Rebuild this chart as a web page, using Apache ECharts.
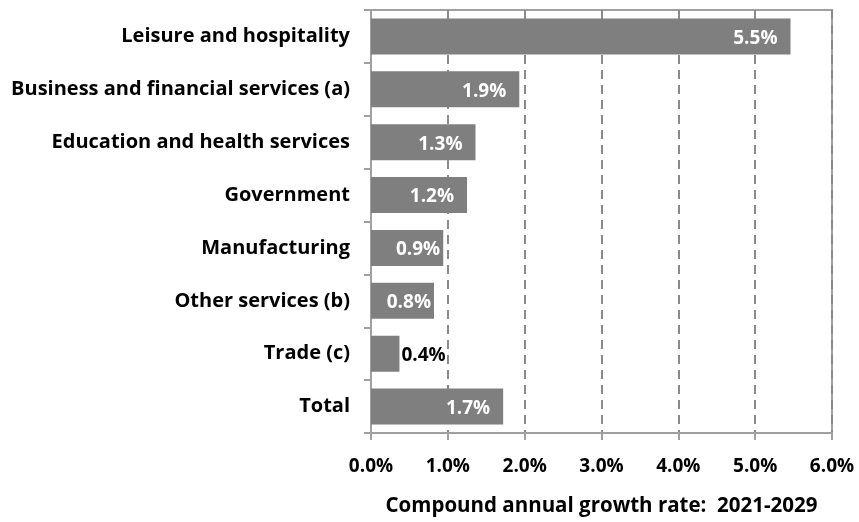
<!DOCTYPE html>
<html>
<head>
<meta charset="utf-8">
<script src="https://cdn.jsdelivr.net/npm/echarts@6/dist/echarts.min.js"></script>
<style>
  html, body { margin: 0; padding: 0; background: #fff; }
  #chart { width: 859px; height: 522px; }
</style>
</head>
<body>
<div id="chart"></div>
<script>
// categories, top to bottom as shown
const categories = [
  'Leisure and hospitality',
  'Business and financial services (a)',
  'Education and health services',
  'Government',
  'Manufacturing',
  'Other services (b)',
  'Trade (c)',
  'Total'
];
// bar lengths (%)
const growth = [5.46, 1.93, 1.36, 1.25, 0.94, 0.82, 0.37, 1.72];
// printed labels
const growthLabels = ['5.5%', '1.9%', '1.3%', '1.2%', '0.9%', '0.8%', '0.4%', '1.7%'];
const xTicks = [0, 1, 2, 3, 4, 5, 6];

const font = '"Open Sans", sans-serif';
const fs = 19;
const axisGray = '#a0a0a0';

let myChart = echarts.init(document.getElementById('chart'));

// labels inside the bar except the short one
const seriesData = growth.map((v, i) => {
  let outside = v < 0.5;
  return {
    value: v,
    label: {
      position: outside ? 'right' : 'insideRight',
      color: outside ? '#000' : '#fff',
      distance: outside ? 2 : (v < 1 ? 3 : 13)
    }
  };
});

let option = {
  animation: false,
  grid: {
    left: 371,
    right: 27,
    top: 10,
    bottom: 85,
    show: true,
    borderColor: axisGray,
    borderWidth: 2
  },
  xAxis: {
    type: 'value',
    min: xTicks[0],
    max: xTicks[xTicks.length - 1],
    interval: 1,
    name: 'Compound annual growth rate:  2021-2029',
    nameLocation: 'middle',
    nameGap: 63,
    nameTextStyle: { fontFamily: font, fontWeight: 'bold', fontSize: 20.5, color: '#000' },
    axisLine: { show: true, lineStyle: { color: axisGray, width: 2 } },
    axisTick: { show: true, length: 7, lineStyle: { color: axisGray, width: 2 } },
    axisLabel: {
      fontFamily: font, fontWeight: 'bold', fontSize: fs, color: '#000', margin: 24,
      formatter: v => v.toFixed(1) + '%'
    },
    splitLine: { show: true, lineStyle: { type: [9, 6], color: '#8a8a8a', width: 2 } }
  },
  yAxis: {
    type: 'category',
    inverse: true,
    data: categories,
    axisLine: { show: true, lineStyle: { color: axisGray, width: 2 } },
    axisTick: { show: true, length: 7, lineStyle: { color: axisGray, width: 2 } },
    axisLabel: { fontFamily: font, fontWeight: 'bold', fontSize: 20, color: '#000', margin: 21, padding: [4, 0, 0, 0] }
  },
  series: [
    {
      type: 'bar',
      data: seriesData,
      barWidth: 36,
      itemStyle: { color: '#7f7f7f' },
      label: {
        show: true,
        fontFamily: font,
        fontWeight: 'bold',
        fontSize: fs,
        offset: [0, 2],
        formatter: p => growthLabels[p.dataIndex]
      }
    }
  ]
};

myChart.setOption(option);
</script>
</body>
</html>
